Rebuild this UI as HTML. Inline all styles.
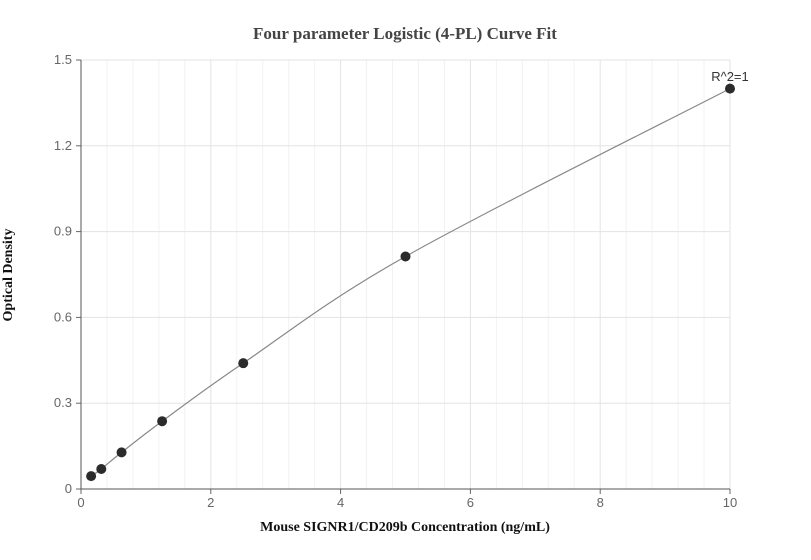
<!DOCTYPE html>
<html><head><meta charset="utf-8"><style>
body{margin:0;background:#fff;}
svg{display:block;font-family:"Liberation Sans",sans-serif;}
</style></head><body>
<svg id="chart" width="811" height="560">
<text x="405" y="39" text-anchor="middle" font-family="Liberation Serif" font-weight="bold" font-size="17" fill="#444">Four parameter Logistic (4-PL) Curve Fit</text>
<text x="405" y="531" text-anchor="middle" font-family="Liberation Serif" font-weight="bold" font-size="14" fill="#111">Mouse SIGNR1/CD209b Concentration (ng/mL)</text>
<text transform="translate(12,275) rotate(-90)" text-anchor="middle" font-family="Liberation Serif" font-weight="bold" font-size="14" fill="#111">Optical Density</text>
<g id="grid"></g><g id="axes"></g><g id="marks"></g>
<text x="730" y="81" text-anchor="middle" font-size="13" fill="#333">R^2=1</text>
</svg>
<script>
const xVals=[0.156,0.3125,0.625,1.25,2.5,5,10];
const yVals=[0.045,0.07,0.128,0.237,0.44,0.813,1.4];
const xTicks=[0,2,4,6,8,10];
const yTicks=[0,0.3,0.6,0.9,1.2,1.5];
const X0=81,X1=730,Y0=489,Y1=60;
const sx=v=>X0+(v-0)/(10-0)*(X1-X0);
const sy=v=>Y0-(v-0)/(1.5-0)*(Y0-Y1);
const NS='http://www.w3.org/2000/svg';
function mk(t,a,p){const e=document.createElementNS(NS,t);for(const k in a)e.setAttribute(k,a[k]);p.appendChild(e);return e;}
const grid=document.getElementById('grid'),axes=document.getElementById('axes'),marks=document.getElementById('marks');
for(let v=0.4;v<10;v+=0.4){if(Math.abs(v/2-Math.round(v/2))<1e-6)continue;
const l=mk('line',{x1:sx(v),x2:sx(v),y1:Y1,y2:Y0,stroke:'#f2f2f2'},grid);

}
xTicks.forEach(t=>{if(t>0){const l=mk('line',{x1:sx(t),x2:sx(t),y1:Y1,y2:Y0,stroke:'#e3e3e3'},grid);

}
const tx=mk('text',{x:sx(t),y:Y0+18,'text-anchor':'middle','font-size':13,fill:'#666'},axes);tx.textContent=t;


const tk=mk('line',{x1:sx(t),x2:sx(t),y1:Y0,y2:Y0+5,stroke:'#666'},axes);

});
yTicks.forEach(t=>{if(t>0){const l=mk('line',{x1:X0,x2:X1,y1:sy(t),y2:sy(t),stroke:'#e3e3e3'},grid);

}
const tx=mk('text',{x:X0-9,y:sy(t)+4,'text-anchor':'end','font-size':13,fill:'#666'},axes);tx.textContent=t===0?'0':t.toFixed(1);


const tk=mk('line',{x1:X0-5,x2:X0,y1:sy(t),y2:sy(t),stroke:'#666'},axes);

});
const xa=mk('line',{x1:X0,x2:X1,y1:Y0,y2:Y0,stroke:'#555'},axes);


const ya=mk('line',{x1:X0,x2:X0,y1:Y1,y2:Y0,stroke:'#555'},axes);


// smooth curve through points (Catmull-Rom)
const P=xVals.map((x,i)=>[sx(x),sy(yVals[i])]);
let d='M'+P[0][0]+','+P[0][1];
for(let i=0;i<P.length-1;i++){const p0=P[Math.max(i-1,0)],p1=P[i],p2=P[i+1],p3=P[Math.min(i+2,P.length-1)];
const c1=[p1[0]+(p2[0]-p0[0])/6,p1[1]+(p2[1]-p0[1])/6],c2=[p2[0]-(p3[0]-p1[0])/6,p2[1]-(p3[1]-p1[1])/6];
d+=` C${c1[0]},${c1[1]} ${c2[0]},${c2[1]} ${p2[0]},${p2[1]}`;}
const c=mk('path',{d:d,fill:'none',stroke:'#888','stroke-width':1.2},marks);


P.forEach(p=>{const e=mk('circle',{cx:p[0],cy:p[1],r:5,fill:'#2b2b2b'},marks);

});
</script>
</body></html>
